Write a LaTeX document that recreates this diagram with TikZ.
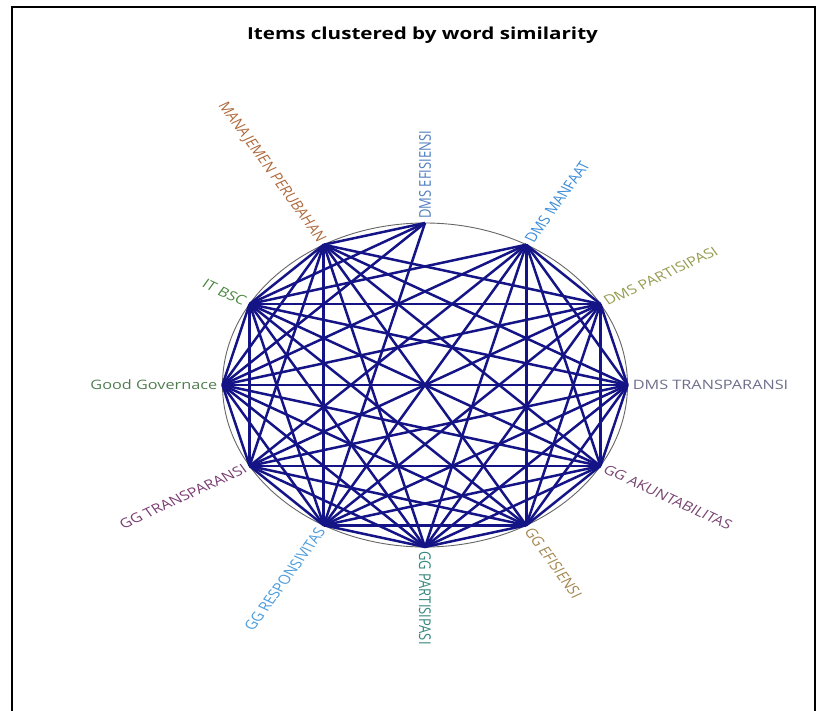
\documentclass[tikz,border=0pt]{standalone}
\usepackage{fontspec}
\setmainfont{Open Sans}
\usepackage{tikz}
\usepackage{xcolor}
\definecolor{linkblue}{RGB}{20,20,135}
\definecolor{cEfis}{RGB}{80,125,190}
\definecolor{cManf}{RGB}{60,140,215}
\definecolor{cPart}{RGB}{150,155,80}
\definecolor{cTrans}{RGB}{110,110,140}
\definecolor{cAkun}{RGB}{120,70,115}
\definecolor{cGgEf}{RGB}{165,135,80}
\definecolor{cGgPa}{RGB}{55,135,125}
\definecolor{cResp}{RGB}{75,155,220}
\definecolor{cGgTr}{RGB}{120,60,115}
\definecolor{cGood}{RGB}{80,125,80}
\definecolor{cBsc}{RGB}{75,135,65}
\definecolor{cMan}{RGB}{175,105,60}

\begin{document}
\begin{tikzpicture}[x=1pt, y=1pt,
  lbl/.style={font=\fontsize{13}{15}\selectfont, inner sep=4pt},
  link/.style={linkblue, line width=2.5pt},
  rim/.style={draw=black!60, line width=0.9pt}]
  \useasboundingbox (0,0) rectangle (827,-711);
  \draw[line width=1.3pt] (12,-711) -- (12,-7) -- (815,-7) -- (815,-711);
  \begin{scope}[shift={(425,-385)}, xscale=1.25, transform shape]
    \node[font=\bfseries\fontsize{16.5}{18}\selectfont] (title) at (-2,350) {Items clustered by word similarity};
    \draw[rim] (0,0) circle[radius=162];
    % items round the circle, clockwise from the top
    \foreach \i in {0,...,11}
      \coordinate (n\i) at ({90-30*\i}:162);
    \foreach \a/\b in {0/7,0/9,0/10,0/11,
        1/2,1/3,1/4,1/5,1/6,1/7,1/8,1/9,1/10,
        2/3,2/4,2/5,2/6,2/7,2/8,2/9,2/10,2/11,
        3/4,3/5,3/6,3/7,3/8,3/9,3/10,3/11,
        4/5,4/6,4/7,4/8,4/9,4/10,4/11,
        5/6,5/7,5/8,5/9,5/10,5/11,
        6/7,6/8,6/9,6/10,6/11,
        7/8,7/9,7/10,7/11,
        8/9,8/10,8/11,
        9/10,9/11,
        10/11}
      \draw[link] (n\a) -- (n\b);
    \node[lbl, anchor=west, rotate=90, text=cEfis] (l0) at (n0) {DMS EFISIENSI};
    \node[lbl, anchor=west, rotate=60, text=cManf] (l1) at (n1) {DMS MANFAAT};
    \node[lbl, anchor=west, rotate=30, text=cPart] (l2) at (n2) {DMS PARTISIPASI};
    \node[lbl, anchor=west, text=cTrans] (l3) at (n3) {DMS TRANSPARANSI};
    \node[lbl, anchor=west, rotate=-30, text=cAkun] (l4) at (n4) {GG AKUNTABILITAS};
    \node[lbl, anchor=west, rotate=-60, text=cGgEf] (l5) at (n5) {GG EFISIENSI};
    \node[lbl, anchor=west, rotate=-90, text=cGgPa] (l6) at (n6) {GG PARTISIPASI};
    \node[lbl, anchor=east, rotate=60, text=cResp] (l7) at (n7) {GG RESPONSIVITAS};
    \node[lbl, anchor=east, rotate=30, text=cGgTr] (l8) at (n8) {GG TRANSPARANSI};
    \node[lbl, anchor=east, text=cGood] (l9) at (n9) {Good Governace};
    \node[lbl, anchor=east, rotate=-30, text=cBsc] (l10) at (n10) {IT BSC};
    \node[lbl, anchor=east, rotate=-60, text=cMan] (l11) at (n11) {MANAJEMEN PERUBAHAN};
  \end{scope}
\end{tikzpicture}
\end{document}
